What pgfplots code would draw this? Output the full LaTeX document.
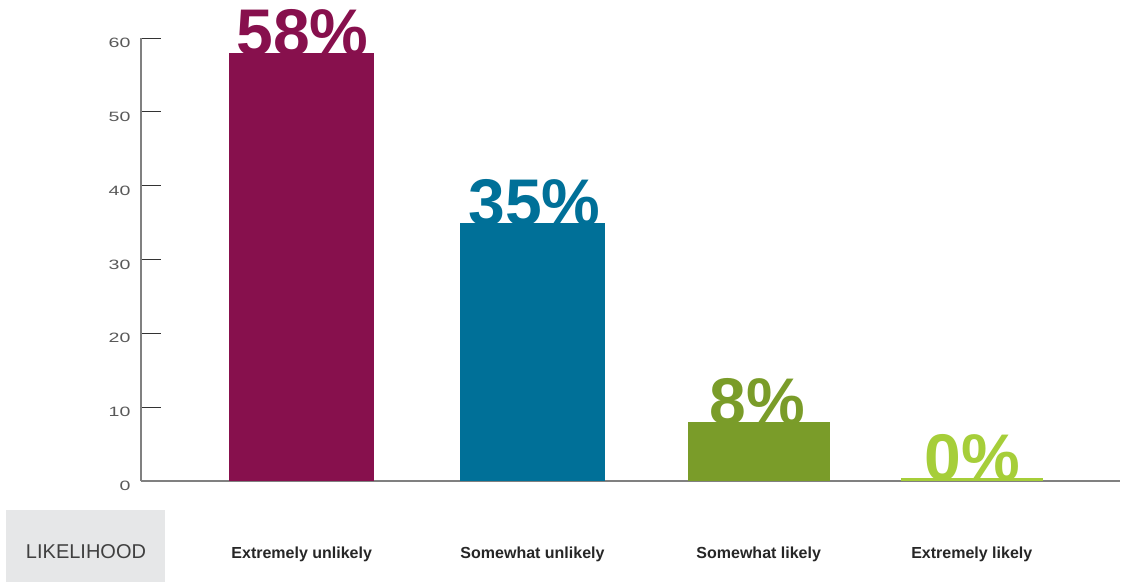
\documentclass[border=0pt]{standalone}
\usepackage{pgfplots}
\pgfplotsset{compat=1.18}
\usepackage{fontspec}
\setmainfont{Liberation Sans}
\newfontfamily\tickfont[FakeStretch=1.45]{Liberation Sans}
\definecolor{c1}{HTML}{87104D}
\definecolor{c2}{HTML}{007098}
\definecolor{c3}{HTML}{7A9C29}
\definecolor{c4}{HTML}{A6CE39}
\definecolor{boxgray}{HTML}{E6E7E8}
\begin{document}
\begin{tikzpicture}
\path (0,0) rectangle (1135pt,582pt);
\fill[boxgray] (6pt,0pt) rectangle (165pt,72pt);
\node[font=\fontsize{20}{20}\selectfont, text=black!75] at (86pt,30pt) {LIKELIHOOD};
\begin{axis}[
  at={(141pt,101pt)}, anchor=south west,
  width=979pt, height=443pt, scale only axis,
  xmin=141, xmax=1120, ymin=0, ymax=60,
  clip=false,
  axis x line=bottom, axis y line=left,
  axis line style={-, black!50, line width=1.2pt},
  ytick={0,10,...,60},
  tick align=inside,
  major tick length=20pt,
  y tick style={black!80, line width=0.8pt},
  x tick style={draw=none},
  xtick={301.7,532.5,758.7,971.8},
  xticklabels={Extremely unlikely,Somewhat unlikely,Somewhat likely,Extremely likely},
  xticklabel style={font=\fontsize{16}{16}\selectfont\bfseries, text=black!85, anchor=base, yshift=-77pt},
  yticklabel style={font=\tickfont\fontsize{13.5}{13.5}\selectfont, text=black!65, yshift=-5pt, xshift=-7pt},
  /pgf/number format/assume math mode=true,
  lbl/.style={mark=none, draw=none, point meta=explicit,
    nodes near coords={\pgfmathprintnumber{\pgfplotspointmeta}\%},
    every node near coord/.append style={anchor=base, yshift=-2.5pt, inner sep=0pt,
      font=\fontsize{66}{66}\selectfont\bfseries, text=#1}},
]
% percentage labels, drawn first so the bars overlap them
\addplot[lbl=c1] coordinates {(302.5,58) [58]};
\addplot[lbl=c2] coordinates {(534.5,35) [35]};
\addplot[lbl=c3] coordinates {(757,8) [8]};
\addplot[lbl=c4] coordinates {(972,0.35) [0]};
% bars
\addplot[ybar, bar shift=0pt, bar width=144.5, fill=c1, draw=none] coordinates {(301.7,58)};
\addplot[ybar, bar shift=0pt, bar width=144.5, fill=c2, draw=none] coordinates {(532.5,35)};
\addplot[ybar, bar shift=0pt, bar width=142, fill=c3, draw=none] coordinates {(758.7,8)};
\addplot[ybar, bar shift=0pt, bar width=142, fill=c4, draw=none] coordinates {(971.8,0.35)};
\end{axis}
\end{tikzpicture}
\end{document}
